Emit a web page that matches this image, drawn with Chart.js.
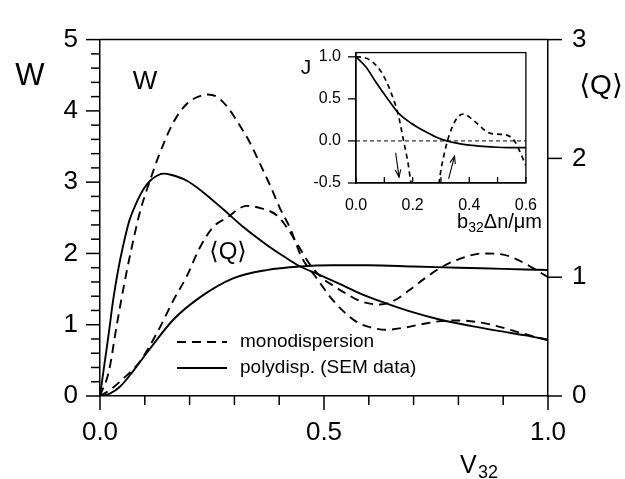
<!DOCTYPE html>
<html><head><meta charset="utf-8">
<script src="https://cdn.jsdelivr.net/npm/chart.js@4.4.1/dist/chart.umd.min.js"></script>
<style>
html,body{margin:0;padding:0;background:#fff;}
#wrap{position:relative;width:625px;height:479px;overflow:hidden;}
#main{position:absolute;left:0;top:0;width:625px;height:479px;}
#inset{position:absolute;left:280px;top:28px;width:270px;height:215px;}
</style></head><body>
<div id="wrap"><canvas id="main" width="625" height="479"></canvas><canvas id="inset" width="270" height="215"></canvas></div>
<script>
// ---------- main panel data (x = V32) ----------
const vWMono = [0, 0.02, 0.037, 0.055, 0.071, 0.09, 0.112, 0.13, 0.163, 0.194, 0.22, 0.24, 0.26, 0.285, 0.3125, 0.335, 0.357, 0.38, 0.402, 0.424, 0.45, 0.484, 0.515, 0.543, 0.57, 0.6, 0.64, 0.68, 0.72, 0.76, 0.8, 0.84, 0.88, 0.92, 0.96, 1.0];
const wMono  = [0, 0.35, 0.98, 1.6, 2.09, 2.6, 3.03, 3.35, 3.83, 4.1, 4.2, 4.23, 4.2, 4.05, 3.79, 3.55, 3.26, 2.95, 2.63, 2.36, 1.95, 1.65, 1.38, 1.19, 1.05, 0.97, 0.93, 0.96, 1.01, 1.05, 1.06, 1.04, 0.99, 0.92, 0.85, 0.78];

const vWPoly = [0, 0.01, 0.02, 0.029, 0.04, 0.051, 0.065, 0.082, 0.097, 0.112, 0.127, 0.141, 0.16, 0.194, 0.23, 0.275, 0.32, 0.37, 0.41, 0.446, 0.49, 0.536, 0.58, 0.625, 0.69, 0.76, 0.83, 0.893, 0.95, 1.0];
const wPoly  = [0, 0.45, 0.9, 1.33, 1.75, 2.09, 2.45, 2.72, 2.9, 3.02, 3.09, 3.12, 3.10, 3.02, 2.86, 2.62, 2.37, 2.13, 1.96, 1.82, 1.70, 1.57, 1.44, 1.33, 1.19, 1.07, 0.98, 0.91, 0.85, 0.79];

const vQMono = [0, 0.022, 0.05, 0.089, 0.127, 0.163, 0.194, 0.223, 0.252, 0.283, 0.327, 0.36, 0.395, 0.417, 0.445, 0.47, 0.5, 0.52, 0.55, 0.58, 0.625, 0.66, 0.69, 0.725, 0.76, 0.8, 0.855, 0.9, 0.93, 0.965, 1.0];
const qMono  = [0, 0.05, 0.14, 0.29, 0.53, 0.80, 1.01, 1.25, 1.42, 1.50, 1.60, 1.58, 1.52, 1.42, 1.25, 1.10, 0.98, 0.93, 0.86, 0.80, 0.77, 0.81, 0.89, 0.99, 1.08, 1.15, 1.20, 1.19, 1.15, 1.08, 1.0];

const vQPoly = [0, 0.022, 0.045, 0.074, 0.112, 0.163, 0.223, 0.297, 0.372, 0.446, 0.52, 0.6, 0.7, 0.8, 0.9, 1.0];
const qPoly  = [0, 0.02, 0.08, 0.21, 0.40, 0.64, 0.83, 0.99, 1.06, 1.09, 1.10, 1.10, 1.09, 1.08, 1.07, 1.06];

const xTickLabels = ['0.0', '0.5', '1.0'];
const legendLabels = ['monodispersion', 'polydisp. (SEM data)'];

// ---------- inset data (x = b32 Δn / µm) ----------
const bJPoly = [0, 0.036, 0.07, 0.116, 0.15, 0.195, 0.24, 0.28, 0.32, 0.36, 0.4, 0.45, 0.5, 0.55, 0.6];
const jPoly  = [1.0, 0.875, 0.70, 0.48, 0.33, 0.21, 0.12, 0.05, 0.0, -0.03, -0.05, -0.065, -0.075, -0.08, -0.08];

const bJMono = [0, 0.03, 0.058, 0.093, 0.122, 0.15, 0.167, 0.184, 0.194, 0.2, 0.245, 0.29, 0.293, 0.314, 0.343, 0.378, 0.42, 0.467, 0.5, 0.525, 0.545, 0.56, 0.6];
const jMono  = [1.0, 0.99, 0.94, 0.80, 0.59, 0.30, 0.02, -0.27, -0.5, -0.62, null, -0.62, -0.51, -0.12, 0.19, 0.32, 0.23, 0.10, 0.08, 0.075, 0.05, 0.0, -0.29];

const arrowDown = [[0.14, -0.14], [0.152, -0.43]];
const arrowUp   = [[0.327, -0.45], [0.348, -0.18]];

const FONT = '"Liberation Sans", "DejaVu Sans", Arial, sans-serif';
const pair = (xs, ys) => xs.map((x, i) => ({x: x, y: ys[i]}));

Chart.defaults.font.family = FONT;
Chart.defaults.color = '#000';

function line(ctx, x1, y1, x2, y2) { ctx.beginPath(); ctx.moveTo(x1, y1); ctx.lineTo(x2, y2); ctx.stroke(); }
function txt(ctx, s, x, y, size, align, base) {
  ctx.font = size + 'px ' + FONT; ctx.textAlign = align || 'center'; ctx.textBaseline = base || 'middle';
  ctx.fillStyle = '#000'; ctx.fillText(s, x, y);
}

const DASH = [9, 6];
const LW = 1.9;
const ds = (label, data, axis, dashed) => ({
  label: label, data: data, yAxisID: axis, borderColor: '#000', borderWidth: LW,
  borderDash: dashed ? DASH : [], pointRadius: 0, fill: false,
  cubicInterpolationMode: 'monotone', spanGaps: false
});

const mainDeco = {
  id: 'mainDeco',
  afterDraw(chart) {
    const ctx = chart.ctx, a = chart.chartArea, sx = chart.scales.x, sy = chart.scales.y, sy2 = chart.scales.y2;
    ctx.save();
    ctx.strokeStyle = '#000'; ctx.lineWidth = 1.5; ctx.setLineDash([]);
    line(ctx, a.left, a.top, a.right, a.top);
    for (let i = 0; i <= 25; i++) {
      const p = sy.getPixelForValue(i * 0.2); const L = (i % 5 === 0) ? 14 : 9;
      line(ctx, a.left - L, p, a.left, p);
    }
    for (let i = 0; i <= 10; i++) {
      const p = sx.getPixelForValue(i * 0.1); const L = (i % 5 === 0) ? 14 : 9;
      line(ctx, p, a.bottom, p, a.bottom + L);
    }
    for (let i = 0; i <= 3; i++) {
      const p = sy2.getPixelForValue(i);
      line(ctx, a.right, p, a.right + 14, p);
    }
    // legend
    ctx.lineWidth = LW;
    ctx.setLineDash(DASH); line(ctx, 177, 342, 227, 342);
    ctx.setLineDash([]); line(ctx, 177, 368, 227, 368);
    txt(ctx, legendLabels[0], 240, 342, 19, 'left');
    txt(ctx, legendLabels[1], 240, 368, 19, 'left');
    // titles
    txt(ctx, 'W', 30, 76, 31);
    txt(ctx, 'W', 145, 82, 26);
    txt(ctx, '\u27E8Q\u27E9', 601, 86, 28);
    txt(ctx, '\u27E8Q\u27E9', 228, 252, 24);
    txt(ctx, 'V', 460, 473, 25, 'left', 'alphabetic');
    txt(ctx, '32', 478, 478, 18, 'left', 'alphabetic');
    ctx.restore();
  }
};

new Chart(document.getElementById('main'), {
  type: 'line',
  data: { datasets: [
    ds('W mono', pair(vWMono, wMono), 'y', true),
    ds('W poly', pair(vWPoly, wPoly), 'y', false),
    ds('Q mono', pair(vQMono, qMono), 'y2', true),
    ds('Q poly', pair(vQPoly, qPoly), 'y2', false)
  ]},
  options: {
    responsive: false, animation: false, devicePixelRatio: 1,
    layout: { padding: { top: 23, left: 0, right: 0, bottom: 0 } },
    plugins: { legend: { display: false }, tooltip: { enabled: false } },
    scales: {
      x: { type: 'linear', min: 0, max: 1, position: 'bottom',
        grid: { display: false, drawTicks: false }, border: { display: true, color: '#000', width: 1.5 },
        ticks: { stepSize: 0.5, autoSkip: false, maxRotation: 0, padding: 21, color: '#000', font: { size: 26 },
          callback: (v) => { const i = Math.round(v * 2); return xTickLabels[i] !== undefined ? xTickLabels[i] : ''; } },
        afterFit(s) { s.height = 83; } },
      y: { type: 'linear', position: 'left', min: 0, max: 5,
        grid: { display: false, drawTicks: false }, border: { display: true, color: '#000', width: 1.5 },
        ticks: { stepSize: 1, padding: 22, color: '#000', font: { size: 26 }, callback: (v) => String(v) },
        afterFit(s) { s.width = 100; } },
      y2: { type: 'linear', position: 'right', min: 0, max: 3,
        grid: { display: false, drawTicks: false }, border: { display: true, color: '#000', width: 1.5 },
        ticks: { stepSize: 1, padding: 24, color: '#000', font: { size: 26 }, callback: (v) => String(v) },
        afterFit(s) { s.width = 77; } }
    }
  },
  plugins: [mainDeco]
});

// ---------- inset ----------
function arrow(ctx, sx, sy, pts) {
  const x1 = sx.getPixelForValue(pts[0][0]), y1 = sy.getPixelForValue(pts[0][1]);
  const x2 = sx.getPixelForValue(pts[1][0]), y2 = sy.getPixelForValue(pts[1][1]);
  line(ctx, x1, y1, x2, y2);
  const ang = Math.atan2(y2 - y1, x2 - x1), h = 8, w = 0.35;
  ctx.beginPath();
  ctx.moveTo(x2 - h * Math.cos(ang - w), y2 - h * Math.sin(ang - w));
  ctx.lineTo(x2, y2);
  ctx.lineTo(x2 - h * Math.cos(ang + w), y2 - h * Math.sin(ang + w));
  ctx.stroke();
}

const insetDeco = {
  id: 'insetDeco',
  beforeDatasetsDraw(chart) {
    const ctx = chart.ctx, a = chart.chartArea, sy = chart.scales.y;
    ctx.save(); ctx.strokeStyle = '#000'; ctx.lineWidth = 1; ctx.setLineDash([4, 3]);
    const p = sy.getPixelForValue(0);
    line(ctx, a.left, p, a.right, p);
    ctx.restore();
  },
  afterDraw(chart) {
    const ctx = chart.ctx, a = chart.chartArea, sx = chart.scales.x, sy = chart.scales.y;
    ctx.save(); ctx.strokeStyle = '#000'; ctx.lineWidth = 1.3; ctx.setLineDash([]);
    ctx.strokeRect(a.left, a.top, a.right - a.left, a.bottom - a.top);
    for (let i = 0; i <= 6; i++) { const p = sx.getPixelForValue(i * 0.1); line(ctx, p, a.bottom, p, a.bottom - 6); }
    for (let i = 0; i <= 3; i++) { const p = sy.getPixelForValue(-0.5 + i * 0.5); line(ctx, a.left - 8, p, a.left, p); }
    ctx.lineWidth = 1.1;
    arrow(ctx, sx, sy, arrowDown);
    arrow(ctx, sx, sy, arrowUp);
    txt(ctx, 'J', 26, 40, 21);
    // axis title b32Δn/µm, right aligned
    ctx.font = '20px ' + FONT; const w1 = ctx.measureText('b').width;
    ctx.font = '14px ' + FONT; const w2 = ctx.measureText('32').width;
    ctx.font = '20px ' + FONT; const w3 = ctx.measureText('\u0394n/\u03BCm').width;
    const right = 262, x0 = right - (w1 + w2 + w3);
    txt(ctx, 'b', x0, 200, 20, 'left', 'alphabetic');
    txt(ctx, '32', x0 + w1, 204, 14, 'left', 'alphabetic');
    txt(ctx, '\u0394n/\u03BCm', x0 + w1 + w2, 200, 20, 'left', 'alphabetic');
    ctx.restore();
  }
};

new Chart(document.getElementById('inset'), {
  type: 'line',
  data: { datasets: [
    Object.assign(ds('J poly', pair(bJPoly, jPoly), 'y', false), { borderWidth: 1.7 }),
    Object.assign(ds('J mono', pair(bJMono, jMono), 'y', true), { borderWidth: 1.7, borderDash: [5, 4] })
  ]},
  options: {
    responsive: false, animation: false, devicePixelRatio: 1,
    layout: { padding: { top: 9, right: 18, left: 0, bottom: 0 } },
    plugins: { legend: { display: false }, tooltip: { enabled: false } },
    scales: {
      x: { type: 'linear', min: 0, max: 0.6, grid: { display: false, drawTicks: false },
        border: { display: true, color: '#000', width: 1.3 },
        ticks: { stepSize: 0.2, autoSkip: false, maxRotation: 0, padding: 13, color: '#000', font: { size: 16 },
          callback: (v) => Number(v).toFixed(1) },
        afterFit(s) { s.height = 60; } },
      y: { type: 'linear', min: -0.5, max: 1.05, grid: { display: false, drawTicks: false },
        border: { display: true, color: '#000', width: 1.3 },
        ticks: { stepSize: 0.5, includeBounds: false, padding: 15, color: '#000', font: { size: 16 },
          callback: (v) => Number(v).toFixed(1) },
        afterFit(s) { s.width = 76; } }
    }
  },
  plugins: [insetDeco]
});
</script>
</body></html>
